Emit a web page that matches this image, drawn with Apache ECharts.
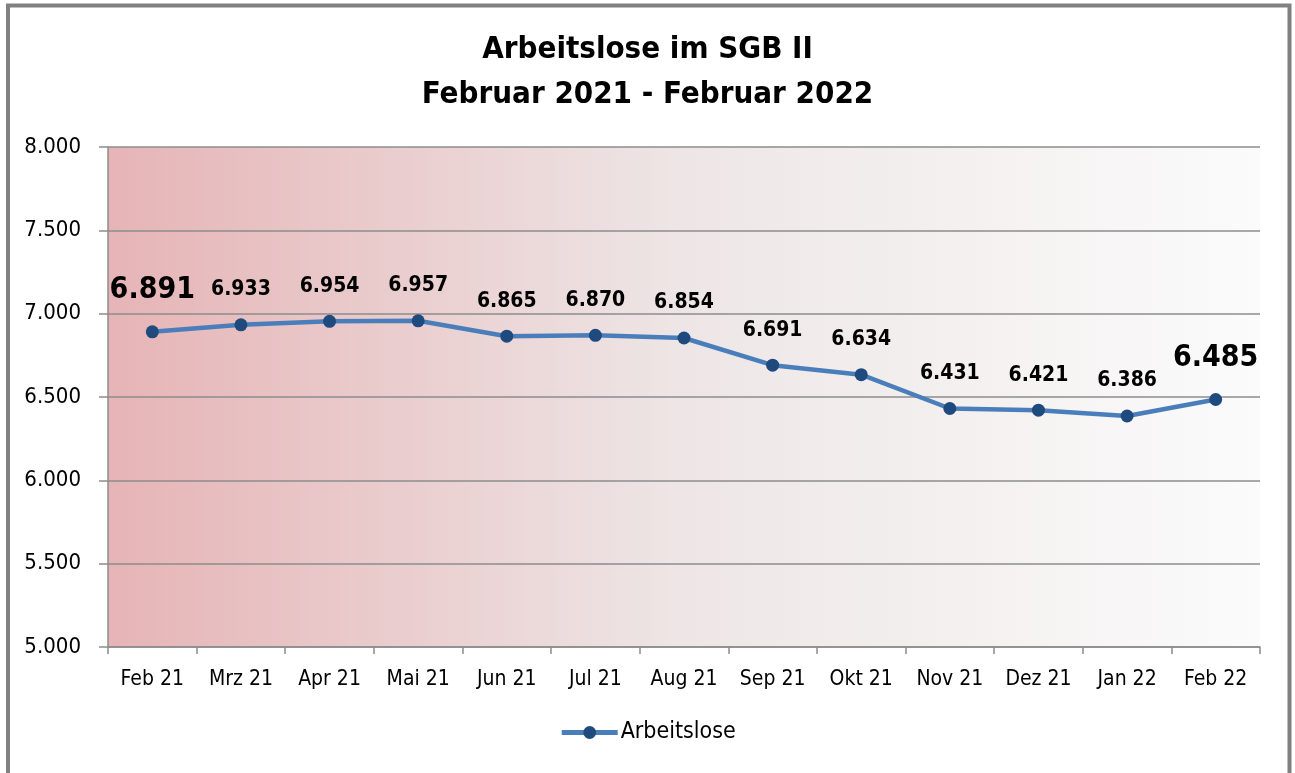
<!DOCTYPE html>
<html>
<head>
<meta charset="utf-8">
<script src="https://cdn.jsdelivr.net/npm/echarts@6/dist/echarts.min.js"></script>
<style>
html,body{margin:0;padding:0;background:#fff;}
#c{width:1295px;height:773px;}
</style>
</head>
<body>
<div id="c"></div>
<script>
const categories = ['Feb 21','Mrz 21','Apr 21','Mai 21','Jun 21','Jul 21','Aug 21','Sep 21','Okt 21','Nov 21','Dez 21','Jan 22','Feb 22'];
const arbeitslose = [6891, 6933, 6954, 6957, 6865, 6870, 6854, 6691, 6634, 6431, 6421, 6386, 6485];
const yTicks = [5000, 5500, 6000, 6500, 7000, 7500, 8000];
const highlighted = [0, 12];

const FONT = '"Liberation Sans Narrow", "DejaVu Sans Condensed", "Roboto Condensed", "Arial Narrow", sans-serif';
function fmt(v){ return String(v).replace(/\B(?=(\d{3})+(?!\d))/g, '.'); }

const chart = echarts.init(document.getElementById('c'));
chart.setOption({
  animation: false,
  backgroundColor: '#fff',
  textStyle: { fontFamily: FONT },
  title: {
    text: 'Arbeitslose im SGB II\nFebruar 2021 - Februar 2022',
    left: 'center', top: 22,
    textStyle: { fontFamily: FONT, fontWeight: 'bold', fontSize: 31, lineHeight: 45, color: '#000' }
  },
  graphic: [{
    type: 'rect', silent: true, z: 100,
    shape: { x: 8, y: 5.5, width: 1281.5, height: 820 },
    style: { fill: 'none', stroke: '#808080', lineWidth: 4 }
  }],
  legend: {
    bottom: 24, left: 'center',
    itemWidth: 56, itemHeight: 16, itemGap: 4,
    lineStyle: { width: 5 },
    textStyle: { fontFamily: FONT, fontSize: 23, color: '#000', padding: [0, 0, 0, -2] },
    data: ['Arbeitslose']
  },
  grid: {
    left: 108, right: 35, top: 147, bottom: 126, show: true, borderWidth: 0,
    backgroundColor: {
      type: 'linear', x: 0, y: 0, x2: 1, y2: 0,
      colorStops: [
        { offset: 0, color: '#e6b4b6' },
        { offset: 0.5, color: '#eee6e6' },
        { offset: 1, color: '#fbfbfb' }
      ]
    }
  },
  xAxis: {
    type: 'category', data: categories, boundaryGap: true,
    axisLine: { lineStyle: { color: '#8c8c8c', width: 1.5 } },
    axisTick: { show: true, length: 7, lineStyle: { color: '#8c8c8c', width: 1.5 } },
    axisLabel: { color: '#000', fontSize: 21, margin: 22, interval: 0, fontFamily: FONT }
  },
  yAxis: {
    type: 'value', min: 5000, max: 8000, interval: 500,
    axisLine: { show: true, lineStyle: { color: '#8c8c8c', width: 1.5 } },
    axisTick: { show: true, length: 9, lineStyle: { color: '#8c8c8c', width: 1.5 } },
    splitLine: { lineStyle: { color: '#8c8c8c', width: 1.5 } },
    axisLabel: { color: '#000', fontSize: 22, margin: 27, fontFamily: FONT, formatter: v => fmt(v) }
  },
  series: [{
    name: 'Arbeitslose', type: 'line',
    symbol: 'circle', symbolSize: 13,
    lineStyle: { color: '#4a7ebb', width: 4.5 },
    itemStyle: { color: '#1f4a7e' },
    data: arbeitslose.map((v, i) => highlighted.includes(i)
      ? { value: v, label: { fontSize: 30, distance: 20 } }
      : v),
    label: {
      show: true, position: 'top', distance: 18,
      fontFamily: FONT, fontWeight: 'bold', fontSize: 21, color: '#000',
      formatter: p => fmt(p.value)
    }
  }]
});
</script>
</body>
</html>
